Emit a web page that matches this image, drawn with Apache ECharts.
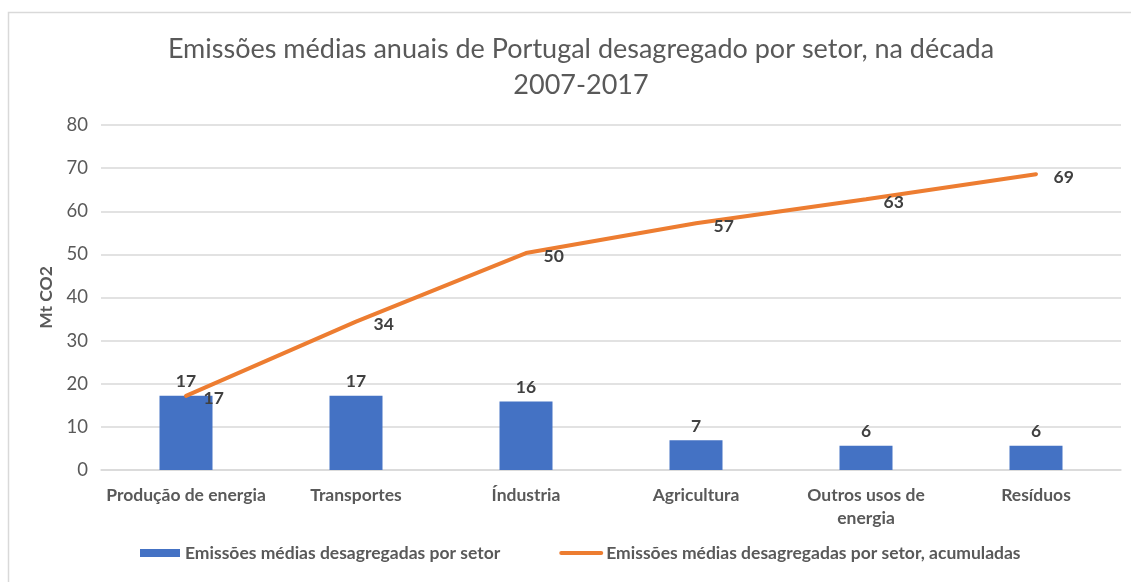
<!DOCTYPE html>
<html>
<head>
<meta charset="utf-8">
<script src="https://cdn.jsdelivr.net/npm/echarts@6/dist/echarts.min.js"></script>
<style>
  html, body { margin: 0; padding: 0; background: #fff; }
  #grafico { width: 1131px; height: 582px; }
</style>
</head>
<body>
<div id="grafico"></div>
<script>
var setores = ['Produção de energia', 'Transportes', 'Índustria', 'Agricultura', 'Outros usos de energia', 'Resíduos'];
var emissoes = [17.2, 17.2, 15.9, 6.9, 5.6, 5.6];
var acumuladas = [17.2, 34.4, 50.3, 57.2, 62.8, 68.6];
var ticksY = { min: 0, max: 80, interval: 10 };

var chartDom = document.getElementById('grafico');
var myChart = echarts.init(chartDom);
var option;

var fonte = 'Lato, "Open Sans", sans-serif';

// quebra só os rótulos compridos (mais de 20 letras) no último espaço
function quebrar(txt) {
  if (txt.length <= 20) return txt;
  var i = txt.lastIndexOf(' ');
  return txt.slice(0, i) + '\n' + txt.slice(i + 1);
}

option = {
  textStyle: { fontFamily: fonte },
  title: {
    text: 'Emissões médias anuais de Portugal desagregado por setor, na década\n2007-2017',
    left: 576,
    textAlign: 'center',
    top: 26,
    textStyle: {
      fontFamily: fonte,
      fontSize: 27,
      fontWeight: 'normal',
      color: '#595959',
      lineHeight: 36
    }
  },
  graphic: [
    {
      type: 'rect',
      shape: { x: 8.5, y: 12.5, width: 1140, height: 600 },
      style: { fill: 'none', stroke: '#d9d9d9', lineWidth: 1.5 },
      silent: true
    }
  ],
  legend: {
    bottom: 15,
    left: 135,
    itemGap: 59,
    itemWidth: 40,
    itemHeight: 8,
    textStyle: { fontFamily: fonte, fontSize: 17.5, fontWeight: 'bold', color: '#595959' },
    data: [
      { name: 'Emissões médias desagregadas por setor', icon: 'rect' },
      {
        name: 'Emissões médias desagregadas por setor, acumuladas',
        itemStyle: { opacity: 0 },
        lineStyle: { width: 4 }
      }
    ]
  },
  grid: { left: 101, right: 10, top: 125, bottom: 112 },
  xAxis: {
    type: 'category',
    data: setores,
    axisTick: { show: false },
    axisLine: { lineStyle: { color: '#d9d9d9', width: 1.5 } },
    axisLabel: {
      interval: 0,
      hideOverlap: false,
      margin: 14,
      lineHeight: 23,
      fontFamily: fonte,
      fontSize: 17.5,
      fontWeight: 'bold',
      color: '#595959',
      formatter: quebrar
    }
  },
  yAxis: {
    type: 'value',
    min: ticksY.min,
    max: ticksY.max,
    interval: ticksY.interval,
    name: 'Mt CO2',
    nameLocation: 'middle',
    nameGap: 45,
    nameTextStyle: { fontFamily: fonte, fontSize: 17.5, fontWeight: 'bold', color: '#595959' },
    axisLine: { show: false },
    axisTick: { show: false },
    axisLabel: { margin: 13, fontFamily: fonte, fontSize: 18.5, color: '#595959' },
    splitLine: { lineStyle: { color: '#d9d9d9', width: 1.5 } }
  },
  series: [
    {
      name: 'Emissões médias desagregadas por setor',
      type: 'bar',
      data: emissoes,
      barWidth: 53,
      itemStyle: { color: '#4472C4' },
      label: {
        show: true,
        position: 'top',
        distance: 5,
        fontFamily: fonte,
        fontSize: 17.5,
        fontWeight: 'bold',
        color: '#404040',
        formatter: function (p) { return Math.round(p.value); }
      }
    },
    {
      name: 'Emissões médias desagregadas por setor, acumuladas',
      type: 'line',
      data: acumuladas,
      symbol: 'circle',
      symbolSize: 1,
      lineStyle: { color: '#ED7D31', width: 4, cap: 'round' },
      itemStyle: { color: '#ED7D31' },
      label: {
        show: true,
        position: 'right',
        distance: 17,
        offset: [0, 3],
        fontFamily: fonte,
        fontSize: 17.5,
        fontWeight: 'bold',
        color: '#404040',
        formatter: function (p) { return Math.round(p.value); }
      },
      z: 3
    }
  ]
};

option && myChart.setOption(option);
</script>
</body>
</html>
